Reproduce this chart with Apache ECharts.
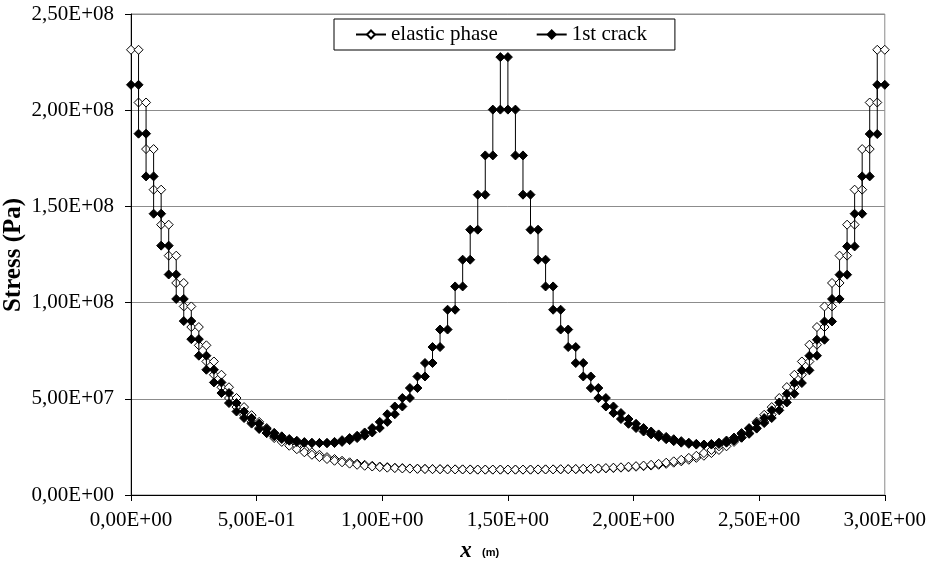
<!DOCTYPE html>
<html>
<head>
<meta charset="utf-8">
<script src="https://cdn.jsdelivr.net/npm/echarts@6/dist/echarts.min.js"></script>
<style>
  html, body { margin: 0; padding: 0; background: #fff; }
  #chart { width: 929px; height: 577px; }
</style>
</head>
<body>
<div id="chart"></div>
<script>
// Beam discretised in 100 elements of 0.03 m; constant stress per element
const elementLength = 0.03;

// Stress per element, elastic phase (x 1e6 Pa)
const elasticPhase = [
  231.4, 204.0, 179.8, 158.7, 140.5, 124.4, 110.2, 98.0, 87.3, 77.8,
  69.4, 62.5, 56.0, 50.4, 45.7, 41.5, 38.0, 34.8, 32.2, 29.6,
  27.6, 25.6, 23.8, 22.2, 20.9, 19.7, 18.7, 17.8, 17.0, 16.3,
  15.7, 15.2, 14.8, 14.5, 14.2, 14.0, 13.8, 13.7, 13.6, 13.5,
  13.4, 13.4, 13.3, 13.3, 13.3, 13.2, 13.2, 13.2, 13.2, 13.2,
  13.2, 13.2, 13.2, 13.2, 13.3, 13.3, 13.3, 13.4, 13.4, 13.5,
  13.6, 13.7, 13.8, 14.0, 14.2, 14.4, 14.7, 15.0, 15.3, 15.7,
  16.2, 16.8, 17.5, 18.3, 19.3, 20.4, 21.8, 23.4, 25.3, 27.6,
  29.8, 32.2, 34.8, 38.1, 41.7, 45.7, 50.4, 56.1, 62.5, 69.4,
  78.1, 87.3, 98.0, 110.2, 124.4, 140.5, 158.7, 179.8, 204.0, 231.4
];

// Stress per element after the first crack (x 1e6 Pa)
const firstCrack = [
  213.2, 187.8, 165.6, 146.2, 129.6, 114.6, 101.9, 90.4, 81.0, 72.4,
  65.1, 58.5, 53.0, 47.8, 43.4, 40.0, 37.1, 34.3, 32.2, 30.5,
  29.1, 28.2, 27.5, 27.1, 27.0, 27.0, 27.0, 27.6, 28.5, 29.6,
  30.8, 32.5, 34.8, 38.0, 42.0, 46.0, 50.4, 55.6, 61.6, 68.6,
  76.9, 86.0, 96.3, 108.4, 122.3, 137.9, 156.1, 176.5, 200.3, 227.6,
  200.3, 176.5, 156.1, 137.9, 122.3, 108.4, 96.3, 86.0, 76.9, 68.6,
  61.6, 55.6, 50.4, 46.0, 42.6, 39.5, 37.0, 34.8, 33.0, 31.5,
  30.2, 29.0, 28.0, 27.2, 26.6, 26.2, 26.2, 26.5, 27.2, 28.3,
  29.8, 31.8, 34.5, 37.4, 40.0, 44.0, 48.1, 52.6, 58.2, 64.8,
  72.4, 80.7, 90.2, 101.9, 114.5, 129.2, 146.2, 165.6, 187.6, 213.2
];

const seriesNames = ['elastic phase', '1st crack'];

// Each element contributes its start and end node at the same stress -> stepped polyline
function steps(values) {
  const pts = [];
  values.forEach((v, i) => {
    const s = v * 1e6;
    pts.push([+(i * elementLength).toFixed(4), s]);
    pts.push([+((i + 1) * elementLength).toFixed(4), s]);
  });
  return pts;
}

// "2.50e+8" -> "2,50E+08"
function sciLabel(v) {
  const [m, e] = Number(v).toExponential(2).split('e');
  const sign = e[0] === '-' ? '-' : '+';
  const digits = e.replace(/[+-]/, '').padStart(2, '0');
  return m.replace('.', ',') + 'E' + sign + digits;
}

const serif = '"Liberation Serif", "Times New Roman", serif';
const sans = '"Liberation Sans", Arial, sans-serif';
const chart = echarts.init(document.getElementById('chart'), null, { renderer: 'canvas' });

chart.setOption({
  animation: false,
  backgroundColor: '#fff',
  grid: {
    left: 131, right: 43, top: 14, bottom: 82,
    show: true, borderColor: '#8a8a8a', borderWidth: 1, backgroundColor: 'transparent'
  },
  legend: {
    data: seriesNames,
    left: 334, top: 19,
    padding: [5, 28, 5, 21],
    itemWidth: 30, itemHeight: 10, itemGap: 38,
    borderColor: '#000', borderWidth: 1, backgroundColor: '#fff',
    textStyle: { fontFamily: serif, fontSize: 21, color: '#000' }
  },
  xAxis: {
    type: 'value', min: 0, max: 3, interval: 0.5,
    axisLine: { lineStyle: { color: '#000', width: 1 } },
    axisTick: { show: true, inside: false, length: 6, lineStyle: { color: '#000' } },
    axisLabel: { formatter: sciLabel, fontFamily: serif, fontSize: 21, color: '#000', margin: 15 },
    splitLine: { show: false }
  },
  yAxis: {
    type: 'value', min: 0, max: 2.5e8, interval: 5e7,
    axisLine: { show: true, lineStyle: { color: '#000', width: 1 } },
    axisTick: { show: true, inside: false, length: 6, lineStyle: { color: '#000' } },
    axisLabel: { formatter: sciLabel, fontFamily: serif, fontSize: 21, color: '#000', margin: 17 },
    splitLine: { show: true, lineStyle: { color: '#8c8c8c', width: 1 } }
  },
  graphic: [
    {
      type: 'text', x: 14, y: 255, rotation: Math.PI / 2,
      style: {
        text: 'Stress (Pa)', fontFamily: serif, fontSize: 25, fontWeight: 'bold',
        fill: '#000', align: 'center', verticalAlign: 'middle'
      }
    },
    {
      type: 'text', x: 466, y: 551,
      style: {
        text: 'x', fontFamily: serif, fontSize: 23, fontWeight: 'bold', fontStyle: 'italic',
        fill: '#000', align: 'center', verticalAlign: 'middle'
      }
    },
    {
      type: 'text', x: 482, y: 553,
      style: {
        text: '(m)', fontFamily: sans, fontSize: 11, fontWeight: 'bold',
        fill: '#000', align: 'left', verticalAlign: 'middle'
      }
    }
  ],
  series: [
    {
      name: seriesNames[0], type: 'line', data: steps(elasticPhase),
      symbol: 'diamond', symbolSize: 9, showAllSymbol: true,
      lineStyle: { color: '#000', width: 1 },
      itemStyle: { color: '#fff', borderColor: '#000', borderWidth: 1 },
      z: 2
    },
    {
      name: seriesNames[1], type: 'line', data: steps(firstCrack),
      symbol: 'diamond', symbolSize: 9, showAllSymbol: true,
      lineStyle: { color: '#000', width: 1 },
      itemStyle: { color: '#000', borderColor: '#000', borderWidth: 1 },
      z: 3
    }
  ]
});
</script>
</body>
</html>
